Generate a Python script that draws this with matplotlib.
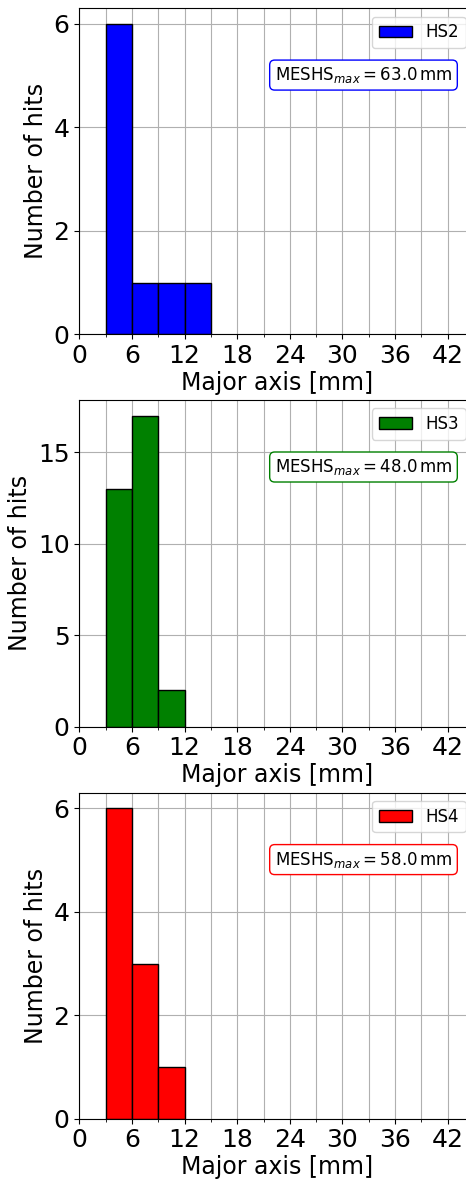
import matplotlib.pyplot as plt
from matplotlib.ticker import MultipleLocator

# Histogram bins (mm) and counts per hailstone sensor
labels = ['HS2', 'HS3', 'HS4']
colors = ['blue', 'green', 'red']
bins_hs2 = [3, 6, 9, 12, 15]
bins_hs3 = [3, 6, 9, 12]
bins_hs4 = [3, 6, 9, 12]
counts_hs2 = [6, 1, 1, 1]
counts_hs3 = [13, 17, 2]
counts_hs4 = [6, 3, 1]
meshs_max = [63.0, 48.0, 58.0]

all_bins = [bins_hs2, bins_hs3, bins_hs4]
all_counts = [counts_hs2, counts_hs3, counts_hs4]

fig = plt.figure(figsize=(4.66, 11.79), dpi=100)
positions = [
    [0.1702, 0.7165, 0.8470, 0.2765],
    [0.1702, 0.3836, 0.8470, 0.2771],
    [0.1702, 0.0511, 0.8470, 0.2765],
]

for pos, lab, col, edges, cnt, mx in zip(positions, labels, colors, all_bins, all_counts, meshs_max):
    ax = fig.add_axes(pos)
    ax.hist(edges[:-1], bins=edges, weights=cnt, color=col, edgecolor='black',
            linewidth=1, label=lab)
    ax.set_xlim(0, 45)
    ax.xaxis.set_major_locator(MultipleLocator(6))
    ax.xaxis.set_minor_locator(MultipleLocator(3))
    ax.grid(True, which='major', axis='both', color='#b0b0b0', linewidth=0.8)
    ax.grid(True, which='minor', axis='x', color='#b0b0b0', linewidth=0.8)
    ax.set_axisbelow(True)
    ax.tick_params(labelsize=18)
    ax.set_xlabel('Major axis [mm]', fontsize=17, labelpad=2)
    ax.set_ylabel('Number of hits', fontsize=17)
    ax.legend(loc='upper right', fontsize=12)
    ax.text(0.72, 0.795, r'MESHS$_{max} = %.1f\,$mm' % mx, transform=ax.transAxes,
            ha='center', va='center', fontsize=12,
            bbox=dict(boxstyle='round', facecolor='white', edgecolor=col))

plt.savefig('out.png', dpi=100)
